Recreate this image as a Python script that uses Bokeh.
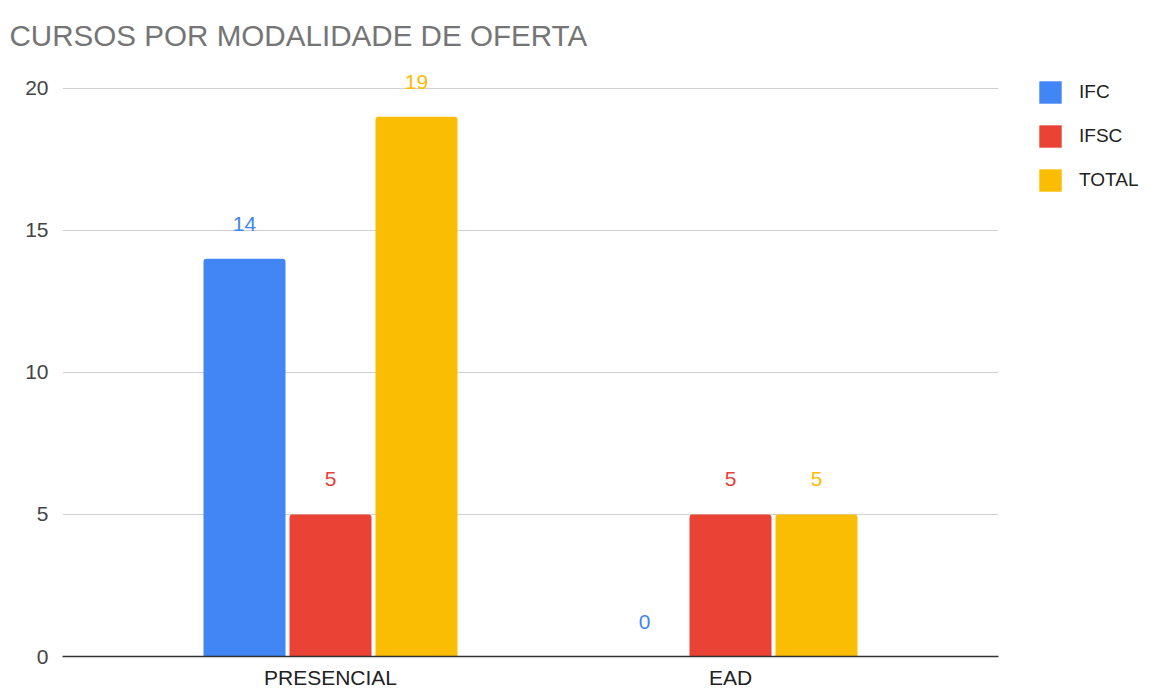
from bokeh.plotting import figure
from bokeh.layouts import row
from bokeh.models import ColumnDataSource, FactorRange, Range1d, Legend, LegendItem
from bokeh.transform import dodge
from bokeh.core.properties import value
from bokeh.embed import file_html
from bokeh.resources import INLINE

categories = ["PRESENCIAL", "EAD"]
ifc = [14, 0]
ifsc = [5, 5]
total = [19, 5]
series_names = ["IFC", "IFSC", "TOTAL"]
colors = ["#4285F4", "#EA4335", "#FBBC04"]
y_ticks = [0, 5, 10, 15, 20]

src = ColumnDataSource(dict(
    cat=categories, ifc=ifc, ifsc=ifsc, total=total,
    ifc_lbl=[str(v) for v in ifc], ifsc_lbl=[str(v) for v in ifsc],
    total_lbl=[str(v) for v in total],
))

FONT = "Liberation Sans"

p = figure(
    width=1010, height=691,
    x_range=FactorRange(factors=categories, range_padding=0.17),
    y_range=Range1d(0, 20.70),
    output_backend="svg", toolbar_location=None,
    title="CURSOS POR MODALIDADE DE OFERTA",
    min_border_left=62, min_border_right=12, min_border_top=68, min_border_bottom=34,
)
p.outline_line_color = None
p.background_fill_color = "white"
p.border_fill_color = "white"

p.title.text_font = FONT
p.title.text_font_size = "29.6px"
p.title.text_font_style = "normal"
p.title.text_color = "#757575"
p.title.align = "left"
p.title.offset = -53
p.title.standoff = 33

p.xgrid.grid_line_color = None
p.ygrid.grid_line_color = "#d0d0d0"
p.ygrid.ticker = y_ticks
p.yaxis.ticker = y_ticks

p.yaxis.axis_line_color = None
p.yaxis.major_tick_line_color = None
p.yaxis.minor_tick_line_color = None
p.yaxis.major_tick_out = 0
p.yaxis.major_label_text_font = FONT
p.yaxis.major_label_text_font_size = "21px"
p.yaxis.major_label_text_color = "#444444"
p.yaxis.major_label_standoff = 14

p.xaxis.axis_line_color = "#333333"
p.xaxis.axis_line_width = 1.3
p.xaxis.major_tick_line_color = None
p.xaxis.minor_tick_line_color = None
p.xaxis.major_tick_out = 0
p.xaxis.major_label_text_font = FONT
p.xaxis.major_label_text_font_size = "21px"
p.xaxis.major_label_text_color = "#222222"
p.xaxis.major_label_standoff = 9

offsets = [-0.215, 0.0, 0.215]
fields = ["ifc", "ifsc", "total"]
for f, off, c in zip(fields, offsets, colors):
    p.vbar(x=dodge("cat", off, range=p.x_range), top=f, width=0.205, source=src,
           fill_color=c, line_color=None, border_radius=[3, 3, 0, 0])
    p.text(x=dodge("cat", off, range=p.x_range), y=f, text=f + "_lbl", source=src,
           text_align="center", text_baseline="middle", y_offset=-35,
           text_font=value(FONT), text_font_size="21px", text_color=c)

# Legend panel (separate small figure to the right); placeholder glyphs of zero size
lg = figure(
    width=140, height=691, x_range=Range1d(0, 1), y_range=Range1d(0, 1),
    output_backend="svg", toolbar_location=None, min_border=0,
)
lg.axis.visible = False
lg.grid.grid_line_color = None
lg.outline_line_color = None
lg_renderers = [
    lg.vbar(x=[0], top=[0], width=0, fill_color=c, line_color=None)
    for c in colors
]
legend = Legend(
    items=[LegendItem(label=n, renderers=[r]) for n, r in zip(series_names, lg_renderers)],
    location=(26, 462),
    glyph_width=28, glyph_height=28, label_height=28,
    spacing=16, label_standoff=15, padding=10, margin=0,
    label_text_font=FONT, label_text_font_size="19px", label_text_color="#222222",
    border_line_color=None, background_fill_alpha=0,
)
lg.add_layout(legend)

layout = row(p, lg, spacing=0)
open("out.html", "w").write(file_html(layout, INLINE))
